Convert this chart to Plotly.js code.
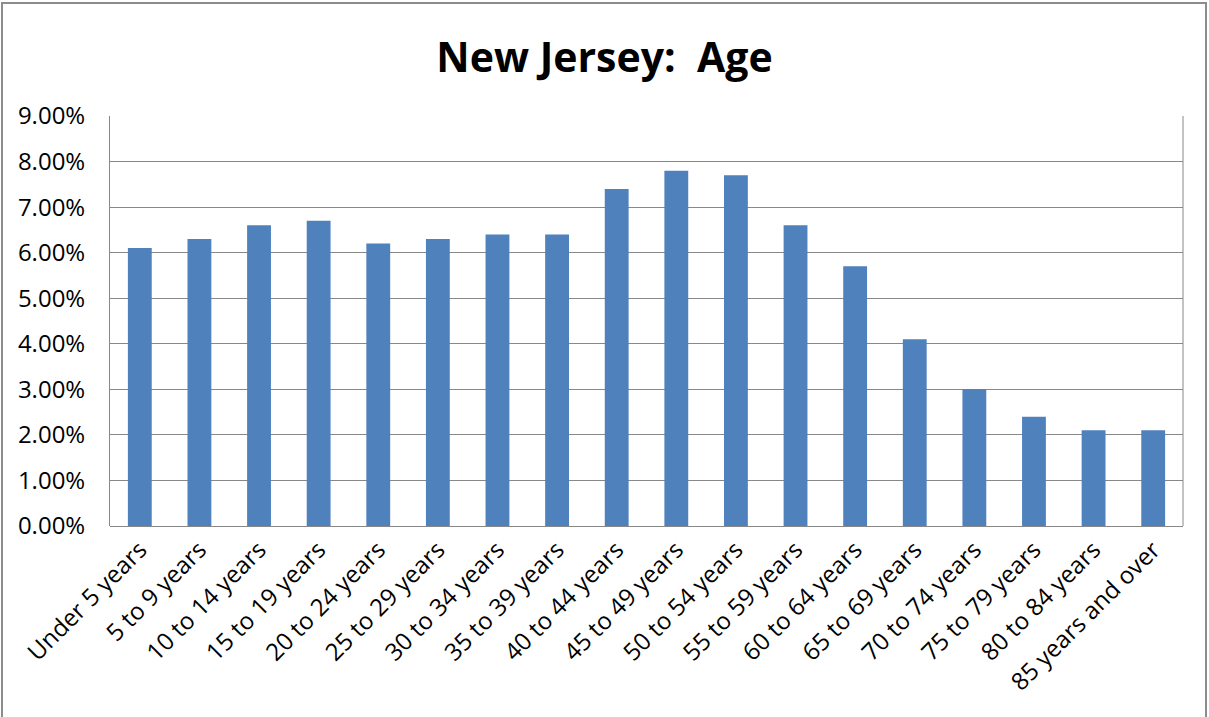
<!DOCTYPE html>
<html><head><meta charset="utf-8">
<script src="https://cdn.plot.ly/plotly-3.0.1.min.js"></script>
<style>
html,body{margin:0;padding:0;background:#fff;}
#frame{position:absolute;left:1px;top:2px;width:1206px;height:730px;border:2px solid #8c8c8c;box-sizing:border-box;}
#chart{position:absolute;left:0;top:0;width:1209px;height:717px;}
</style></head>
<body>
<div id="frame"></div>
<div id="chart"></div>
<script>
const categories = ["Under 5 years","5 to 9 years","10 to 14 years","15 to 19 years","20 to 24 years","25 to 29 years","30 to 34 years","35 to 39 years","40 to 44 years","45 to 49 years","50 to 54 years","55 to 59 years","60 to 64 years","65 to 69 years","70 to 74 years","75 to 79 years","80 to 84 years","85 years and over"];
const shares = [0.061,0.063,0.066,0.067,0.062,0.063,0.064,0.064,0.074,0.078,0.077,0.066,0.057,0.041,0.030,0.024,0.021,0.021];
const titleText = "New Jersey:\u00a0 Age";

const trace = {type:'bar', x:categories, y:shares, marker:{color:'#4f81bd'}, width:0.4, hoverinfo:'x+y'};
const layout = {
  width:1209, height:717,
  paper_bgcolor:'rgba(0,0,0,0)', plot_bgcolor:'#fff',
  margin:{l:110, r:26, t:116, b:191},
  title:{text:titleText, font:{family:'Open Sans, sans-serif', size:41, color:'#000', weight:'bold'}, x:0.5, xref:'container', xanchor:'center', y:0.92, yref:'container', yanchor:'middle'},
  font:{family:'Open Sans, sans-serif', size:24, color:'#000'},
  showlegend:false,
  xaxis:{tickangle:-45, showgrid:false, showline:false, ticks:'', tickfont:{size:24}, automargin:false, ticklabelstandoff:4},
  yaxis:{range:[0,0.09], dtick:0.01, tickformat:'.2%', showgrid:true, gridcolor:'#888', gridwidth:1, showline:true, linecolor:'#888', linewidth:1, ticks:'', zeroline:true, zerolinecolor:'#888', zerolinewidth:1, tickfont:{size:24}, automargin:false, ticklabelstandoff:19},
  shapes:[{type:'line', xref:'paper', yref:'paper', x0:1, x1:1, y0:0, y1:1, line:{color:'#888', width:1}}]
};
Plotly.newPlot('chart',[trace],layout,{displayModeBar:false, staticPlot:true});
</script>
</body></html>
